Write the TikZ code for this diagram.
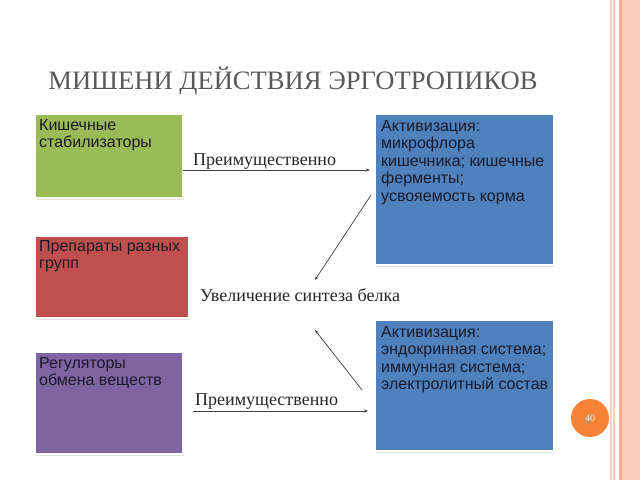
\documentclass[tikz,border=0pt]{standalone}
\usepackage{fontspec}
\setmainfont{Liberation Serif}
\newfontfamily\boxfont{Liberation Sans}
\usetikzlibrary{shadows,arrows.meta}
\definecolor{gbox}{HTML}{9BBB59}
\definecolor{rbox}{HTML}{C0504D}
\definecolor{pbox}{HTML}{8064A2}
\definecolor{bbox}{HTML}{4F81BD}
\definecolor{orng}{HTML}{F58235}
\definecolor{salmon}{HTML}{FCCBB8}
\definecolor{salmond}{HTML}{F6B094}
\definecolor{pinkl}{HTML}{F8D4C8}
\definecolor{titlec}{HTML}{595959}
\definecolor{txtc}{HTML}{1A1A2A}
\tikzset{
  cbox/.style={draw=white, line width=1.2pt, drop shadow={shadow xshift=0.6pt, shadow yshift=-1.6pt, opacity=0.22},
    inner sep=0pt, outer sep=0pt},
  btext/.style={anchor=north west, align=left, font=\boxfont\fontsize{16}{17.5}\selectfont, text=txtc, inner sep=0pt},
  lbl/.style={font=\fontsize{18}{20}\selectfont, text=black!85, inner sep=0pt},
  arr/.style={draw=black!75, line width=0.7pt, -{Stealth[length=4pt,width=3pt]}}
}
\begin{document}
\begin{tikzpicture}[x=1pt,y=-1pt]
\useasboundingbox (0,0) rectangle (640,480);
\fill[white] (0,0) rectangle (640,480);
% right border
\fill[pinkl] (610,0) rectangle (612,480);
\fill[pinkl!80!salmond] (612.5,0) rectangle (614.5,480);
\fill[salmond] (618.5,0) rectangle (622,480);
\fill[salmon] (622,0) rectangle (640,480);
% title
\node[font=\fontsize{26.6}{30}\selectfont, text=titlec, inner sep=0pt] (title) at (293,81) {МИШЕНИ ДЕЙСТВИЯ ЭРГОТРОПИКОВ};
% boxes
\path[cbox, fill=gbox] (35,114) rectangle (183,198);
\path[cbox, fill=rbox] (35,236) rectangle (189,318);
\path[cbox, fill=pbox] (35,352) rectangle (183,454);
\path[cbox, fill=bbox] (375,114) rectangle (554,265);
\path[cbox, fill=bbox] (375,320) rectangle (554,451);
\node[btext] (tg) at (39,119) {Кишечные\\стабилизаторы};
\node[btext] (tr) at (39,240) {Препараты разных\\групп};
\node[btext] (tp) at (39,357) {Регуляторы\\обмена веществ};
\node[btext] (tb1) at (381,120) {Активизация:\\микрофлора\\кишечника; кишечные\\ферменты;\\усвояемость корма};
\node[btext] (tb2) at (381,326) {Активизация:\\эндокринная система;\\иммунная система;\\электролитный состав};
% labels
\node[lbl, anchor=base west] (l1) at (193,165) {Преимущественно};
\node[lbl, anchor=base west] (l2) at (200,301) {Увеличение синтеза белка};
\node[lbl, anchor=base west] (l3) at (195,405) {Преимущественно};
% arrows
\coordinate (a1s) at (183,170); \coordinate (a1e) at (370,170);
\coordinate (a2s) at (371,195); \coordinate (a2e) at (315,280);
\coordinate (a3s) at (362,390); \coordinate (a3e) at (315,330);
\coordinate (a4s) at (193,411); \coordinate (a4e) at (368,411);
\draw[arr] (a1s) -- (a1e);
\draw[arr] (a2s) -- (a2e);
\draw[arr] (a3s) -- (a3e);
\draw[arr] (a4s) -- (a4e);
% page number
\node[circle, fill=orng, minimum size=38pt, inner sep=0pt, text=white, font=\fontsize{10}{11}\selectfont] (pg) at (590,418) {40};
\end{tikzpicture}
\end{document}
